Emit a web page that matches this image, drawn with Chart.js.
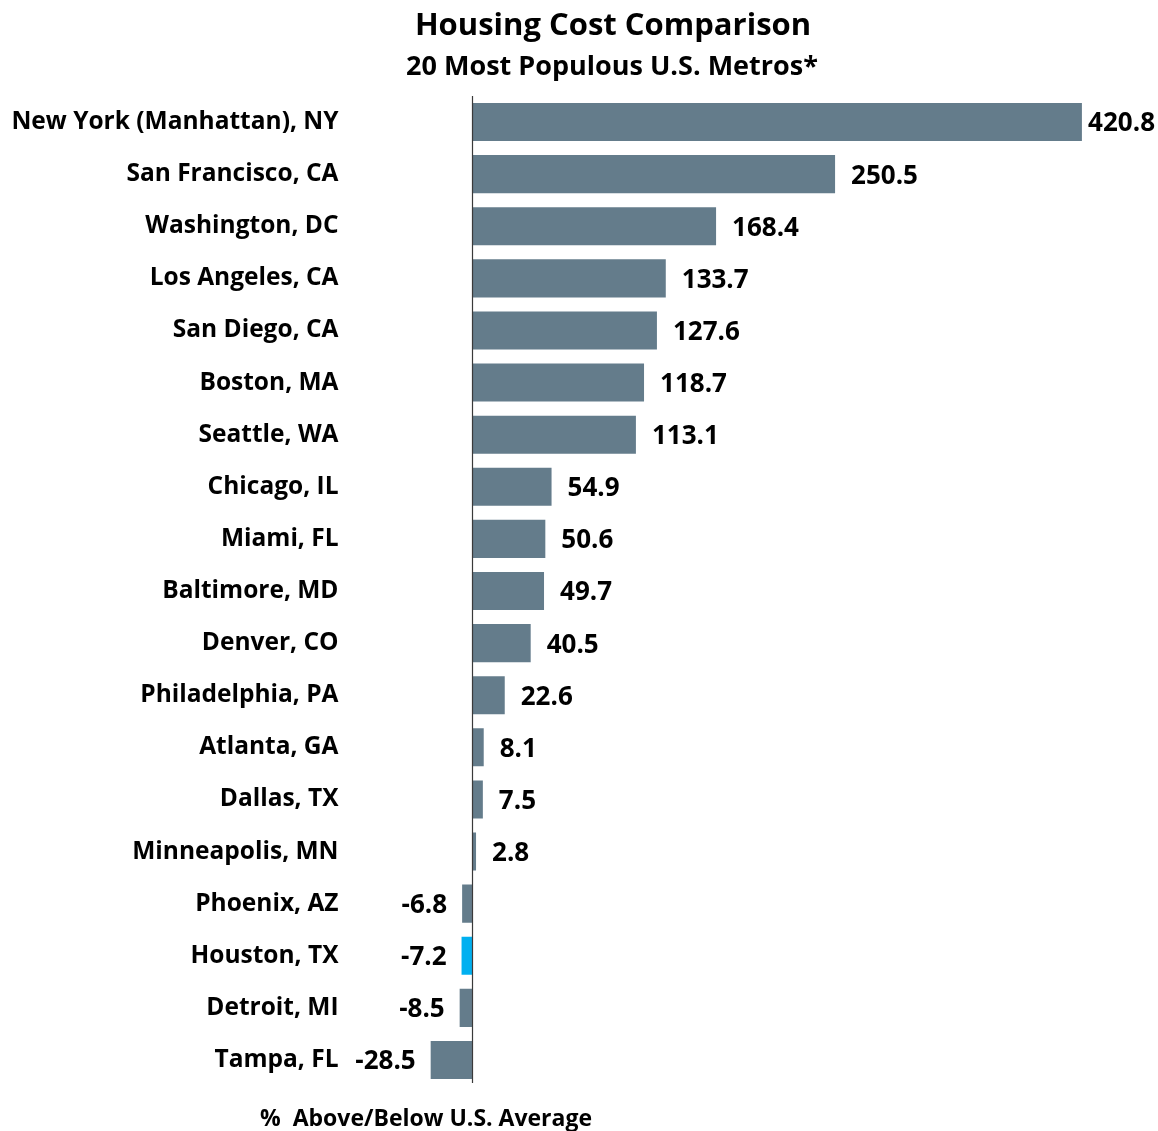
<!DOCTYPE html>
<html>
<head>
<meta charset="utf-8">
<title>Housing Cost Comparison</title>
<script src="https://cdn.jsdelivr.net/npm/chart.js@4/dist/chart.umd.min.js"></script>
<style>
  html, body { margin: 0; padding: 0; background: #ffffff; }
  #wrap { width: 1158px; height: 1131px; position: relative; }
</style>
</head>
<body>
<div id="wrap"><canvas id="chart" width="1158" height="1131"></canvas></div>
<script>
// Metro areas, ordered from most to least expensive
const metros = [
  'New York (Manhattan), NY', 'San Francisco, CA', 'Washington, DC', 'Los Angeles, CA',
  'San Diego, CA', 'Boston, MA', 'Seattle, WA', 'Chicago, IL', 'Miami, FL',
  'Baltimore, MD', 'Denver, CO', 'Philadelphia, PA', 'Atlanta, GA', 'Dallas, TX',
  'Minneapolis, MN', 'Phoenix, AZ', 'Houston, TX', 'Detroit, MI', 'Tampa, FL'
];
// Housing cost, % above/below the U.S. average
const pctVsAverage = [
  420.8, 250.5, 168.4, 133.7, 127.6, 118.7, 113.1, 54.9, 50.6,
  49.7, 40.5, 22.6, 8.1, 7.5, 2.8, -6.8, -7.2, -8.5, -28.5
];
const highlightMetro = 'Houston, TX';

const titleText = 'Housing Cost Comparison';
const subtitleText = '20 Most Populous U.S. Metros*';
const axisTitleText = '%  Above/Below U.S. Average';

const FONT = '"Open Sans", Lato, sans-serif';
const BAR = '#647c8b';
const HIGHLIGHT = '#00b0f0';

// Zero line, value labels beside each bar, and the headings around the plot
const annotate = {
  id: 'annotate',
  afterDatasetsDraw(chart) {
    const ctx = chart.ctx;
    const area = chart.chartArea;
    const x0 = Math.round(chart.scales.x.getPixelForValue(0)) + 0.5;
    ctx.save();
    ctx.strokeStyle = '#3a3a3a';
    ctx.lineWidth = 1.2;
    ctx.beginPath();
    ctx.moveTo(x0, area.top);
    ctx.lineTo(x0, area.bottom - 3);
    ctx.stroke();

    const meta = chart.getDatasetMeta(0);
    ctx.fillStyle = '#000000';
    ctx.font = 'bold 26px ' + FONT;
    ctx.textBaseline = 'middle';
    meta.data.forEach((bar, i) => {
      const v = pctVsAverage[i];
      const txt = v.toFixed(1);
      const y = bar.y + 2;
      if (v >= 0) {
        const w = ctx.measureText(txt).width;
        const x = Math.min(bar.x + 16, chart.width - 3 - w);
        ctx.textAlign = 'left';
        ctx.fillText(txt, x, y);
      } else {
        ctx.textAlign = 'right';
        ctx.fillText(txt, bar.x - 15, y);
      }
    });

    ctx.textAlign = 'center';
    ctx.font = 'bold 31px ' + FONT;
    ctx.fillText(titleText, 613, 26);
    ctx.font = 'bold 27px ' + FONT;
    ctx.fillText(subtitleText, 612, 67);
    ctx.font = 'bold 23px ' + FONT;
    ctx.fillText(axisTitleText, 426, 1119);
    ctx.restore();
  }
};

new Chart(document.getElementById('chart'), {
  type: 'bar',
  data: {
    labels: metros,
    datasets: [{
      data: pctVsAverage,
      backgroundColor: metros.map(m => m === highlightMetro ? HIGHLIGHT : BAR),
      borderWidth: 0,
      barPercentage: 0.84,
      categoryPercentage: 0.87
    }]
  },
  options: {
    indexAxis: 'y',
    responsive: false,
    animation: false,
    layout: { padding: { top: 96, bottom: 45, left: 0, right: 70 } },
    plugins: {
      legend: { display: false },
      tooltip: { enabled: false },
      title: { display: false }
    },
    scales: {
      x: {
        display: false,
        min: -30,
        max: 425
      },
      y: {
        afterFit: s => {
          s.width = 428.5;
          // the wide label gap should not eat into the plot's height
          s.paddingTop = 0;
          s.paddingBottom = 0;
        },
        border: { display: false },
        grid: { display: false, drawTicks: false },
        ticks: {
          padding: 90,
          color: '#000000',
          font: { family: FONT, weight: 'bold', size: 24.5 },
          autoSkip: false
        }
      }
    }
  },
  plugins: [annotate]
});
</script>
</body>
</html>
